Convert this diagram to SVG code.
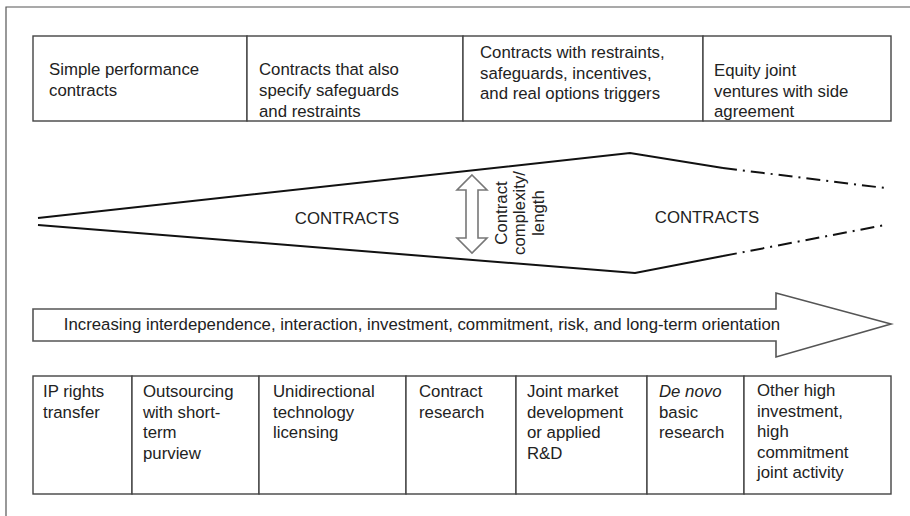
<svg xmlns="http://www.w3.org/2000/svg" width="910" height="516" viewBox="0 0 910 516">
<style>
text{font-family:"Liberation Sans",Arial,sans-serif;font-size:16.8px;fill:#222}
.cell{fill:#fff;stroke:#444;stroke-width:1.4}
.wedge{fill:none;stroke:#111;stroke-width:2}
.dd{fill:none;stroke:#111;stroke-width:2;stroke-dasharray:14 6 2 6}
.mid{text-anchor:middle}
</style>
<rect x="0" y="0" width="910" height="516" fill="#fff"/>
<path d="M6,516 V7 H910" fill="none" stroke="#555" stroke-width="1.2"/>

<g id="top-table">
  <g id="t1"><rect class="cell" x="33" y="36" width="214" height="85"/>
    <text x="49" y="75">Simple performance</text><text x="49" y="96">contracts</text></g>
  <g id="t2"><rect class="cell" x="247" y="36" width="216" height="85"/>
    <text x="259" y="75">Contracts that also</text><text x="259" y="96">specify safeguards</text><text x="259" y="116.5">and restraints</text></g>
  <g id="t3"><rect class="cell" x="463" y="36" width="240" height="85"/>
    <text x="480" y="58">Contracts with restraints,</text><text x="480" y="78.5">safeguards, incentives,</text><text x="480" y="99">and real options triggers</text></g>
  <g id="t4"><rect class="cell" x="703" y="36" width="188" height="85"/>
    <text x="714" y="76">Equity joint</text><text x="714" y="97">ventures with side</text><text x="714" y="117">agreement</text></g>
</g>

<g id="wedge">
  <polyline class="wedge" points="38,218 630,153 723,168"/>
  <polyline class="dd" points="723,168 885,188"/>
  <polyline class="wedge" points="38,225 635,273 723,256"/>
  <polyline class="dd" points="723,256 885,225"/>
  <text class="mid" x="347" y="224">CONTRACTS</text>
  <text class="mid" x="707" y="223">CONTRACTS</text>
</g>

<g id="complexity">
  <polygon points="472,175 487,190 478,190 478,238 487,238 472,253 457,238 466,238 466,190 457,190" fill="#fff" stroke="#777" stroke-width="1.6"/>
  <g transform="translate(0,213)">
    <text class="mid" transform="translate(507,0) rotate(-90)">Contract</text>
    <text class="mid" transform="translate(525,0) rotate(-90)">complexity/</text>
    <text class="mid" transform="translate(544,0) rotate(-90)">length</text>
  </g>
</g>

<g id="big-arrow">
  <polygon points="33,309 776,309 776,293 891,324 776,357 776,341 33,341" fill="#fff" stroke="#555" stroke-width="1.6"/>
  <text class="mid" x="422" y="330">Increasing interdependence, interaction, investment, commitment, risk, and long-term orientation</text>
</g>

<g id="bottom-table">
  <g id="b1"><rect class="cell" x="33" y="376" width="99" height="118"/>
    <text x="43" y="397">IP rights</text><text x="43" y="417.5">transfer</text></g>
  <g id="b2"><rect class="cell" x="132" y="376" width="127" height="118"/>
    <text x="143" y="397">Outsourcing</text><text x="143" y="417.5">with short-</text><text x="143" y="438">term</text><text x="143" y="458.5">purview</text></g>
  <g id="b3"><rect class="cell" x="259" y="376" width="147" height="118"/>
    <text x="273" y="397">Unidirectional</text><text x="273" y="417.5">technology</text><text x="273" y="438">licensing</text></g>
  <g id="b4"><rect class="cell" x="406" y="376" width="110" height="118"/>
    <text x="419" y="397">Contract</text><text x="419" y="417.5">research</text></g>
  <g id="b5"><rect class="cell" x="516" y="376" width="131" height="118"/>
    <text x="527" y="397">Joint market</text><text x="527" y="417.5">development</text><text x="527" y="438">or applied</text><text x="527" y="458.5">R&amp;D</text></g>
  <g id="b6"><rect class="cell" x="647" y="376" width="97" height="118"/>
    <text x="659" y="397" font-style="italic">De novo</text><text x="659" y="417.5">basic</text><text x="659" y="438">research</text></g>
  <g id="b7"><rect class="cell" x="744" y="376" width="147" height="118"/>
    <text x="757" y="396">Other high</text><text x="757" y="416.5">investment,</text><text x="757" y="437">high</text><text x="757" y="457.5">commitment</text><text x="757" y="478">joint activity</text></g>
</g>
</svg>
